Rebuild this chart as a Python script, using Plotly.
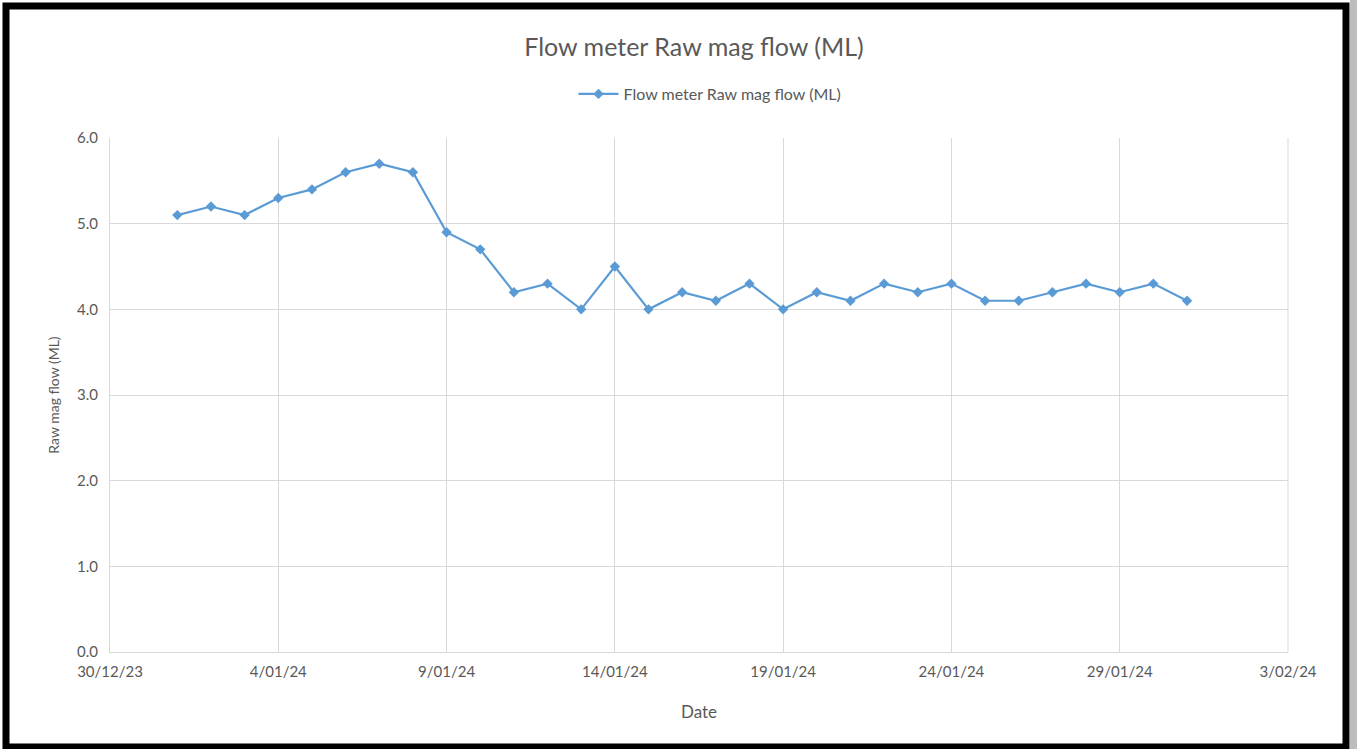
import pandas as pd
import plotly.graph_objects as go

# Daily readings, January 2024
fechas = pd.date_range("2024-01-01", "2024-01-31", freq="D")
flujo = [5.1, 5.2, 5.1, 5.3, 5.4, 5.6, 5.7, 5.6, 4.9, 4.7,
         4.2, 4.3, 4.0, 4.5, 4.0, 4.2, 4.1, 4.3, 4.0, 4.2,
         4.1, 4.3, 4.2, 4.3, 4.1, 4.1, 4.2, 4.3, 4.2, 4.3, 4.1]

NOMBRE = "Flow meter Raw mag flow (ML)"
AZUL = "#5B9BD5"
GRIS_TXT = "#595959"
GRID = "#D9D9D9"
FUENTE = "Lato"

W, H = 1357, 749
L, R, T, B = 110, 1288, 138, 652


def px_x(p):
    return (p - L) / (R - L)


def px_y(p):
    return (B - p) / (B - T)


fig = go.Figure()

fig.add_trace(go.Scatter(
    x=fechas, y=flujo, name=NOMBRE, mode="lines+markers",
    line=dict(color=AZUL, width=2.2),
    marker=dict(symbol="diamond", size=8, color=AZUL),
))

fig.update_layout(
    width=W, height=H,
    margin=dict(l=L, r=W - R, t=T, b=H - B),
    paper_bgcolor="white", plot_bgcolor="white",
    font=dict(family=FUENTE, color=GRIS_TXT, size=13),
    title=dict(text=NOMBRE, x=694 / W, xanchor="center", y=1 - 47 / H, yanchor="middle",
               font=dict(size=25, color=GRIS_TXT, family=FUENTE)),
    showlegend=True,
    legend=dict(orientation="h", x=px_x(710), xanchor="center", y=px_y(94), yanchor="middle",
                font=dict(size=16, color=GRIS_TXT), bgcolor="rgba(0,0,0,0)", itemwidth=40),
    xaxis=dict(
        range=["2023-12-30", "2024-02-03"], tick0="2023-12-30", dtick=5 * 86400000,
        tickformat="%-d/%m/%y", showgrid=True, gridcolor=GRID, gridwidth=1,
        showline=True, linecolor=GRID, linewidth=1, mirror=False, zeroline=False,
        ticks="", tickfont=dict(size=15, color=GRIS_TXT), ticklabelstandoff=6,
        title=dict(text="Date", standoff=27, font=dict(size=17, color=GRIS_TXT)),
    ),
    yaxis=dict(
        range=[0, 6], dtick=1, tickformat=".1f", showgrid=True, gridcolor=GRID, gridwidth=1,
        showline=True, linecolor=GRID, linewidth=1, zeroline=False, ticks="",
        tickfont=dict(size=15, color=GRIS_TXT), ticklabelstandoff=8,
        title=dict(text="Raw mag flow (ML)", standoff=14, font=dict(size=14, color=GRIS_TXT)),
    ),
)

# Right plot-area border and black frame around the picture
fig.add_shape(type="line", xref="paper", yref="paper", x0=1, x1=1, y0=0, y1=1,
              line=dict(color=GRID, width=1), layer="below")
fig.add_shape(type="rect", xref="paper", yref="paper",
              x0=px_x(1350), x1=px_x(1358), y0=px_y(0), y1=px_y(750),
              fillcolor="#BDBDBD", line=dict(width=0))
fig.add_shape(type="rect", xref="paper", yref="paper",
              x0=px_x(6), x1=px_x(1346), y0=px_y(6), y1=px_y(747),
              line=dict(color="black", width=7), fillcolor="rgba(0,0,0,0)")

fig.write_html("out.html", config={"displayModeBar": False},
               post_script="document.body.style.margin='0';")
